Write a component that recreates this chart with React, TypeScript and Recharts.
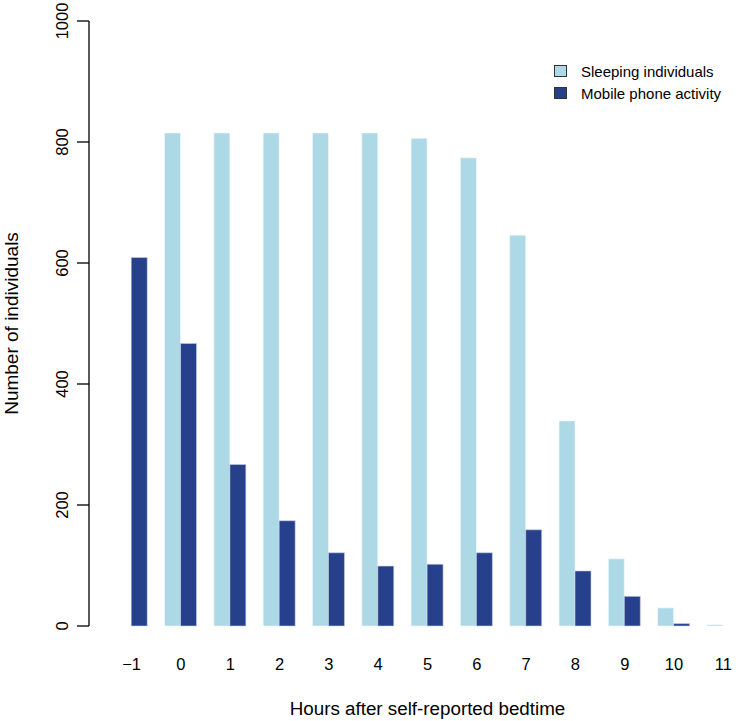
import React from "react";
import {
  BarChart,
  Bar,
  XAxis,
  YAxis,
  Legend,
  Label,
} from "recharts";

const hours = ["-1", "0", "1", "2", "3", "4", "5", "6", "7", "8", "9", "10", "11"];
const sleeping = [0, 815, 815, 815, 815, 815, 806, 774, 646, 339, 111, 30, 2];
const mobile = [609, 467, 267, 174, 121, 99, 102, 121, 159, 91, 49, 4, 0];
const yTicks = [0, 200, 400, 600, 800, 1000];

const legendOrder = ["Sleeping individuals", "Mobile phone activity"];

const data = hours.map((h, i) => ({
  hour: h.replace("-", "\u2212"),
  sleeping: sleeping[i],
  mobile: mobile[i],
}));

const FONT = "'Liberation Sans', Arial, Helvetica, sans-serif";

const YTick = (props: any) => {
  const { x, y, payload } = props;
  return (
    <text
      x={x - 7}
      y={y}
      transform={`rotate(-90, ${x - 7}, ${y})`}
      textAnchor="middle"
      fontSize={16.5}
      fontFamily={FONT}
      fill="#000"
    >
      {payload.value}
    </text>
  );
};

const renderLegend = (props: any) => {
  const items = [...props.payload].sort(
    (a: any, b: any) => legendOrder.indexOf(a.value) - legendOrder.indexOf(b.value)
  );
  return (
    <div style={{ fontFamily: FONT, fontSize: 15, color: "#000" }}>
      {items.map((entry: any) => (
        <div
          key={entry.value}
          style={{ display: "flex", alignItems: "center", height: 22 }}
        >
          <span
            style={{
              display: "inline-block",
              width: 11,
              height: 10,
              background: entry.color,
              border: "1px solid #333",
              marginRight: 14,
            }}
          />
          <span>{entry.value}</span>
        </div>
      ))}
    </div>
  );
};

export default function App() {
  return (
    <div style={{ position: "absolute", left: 0, top: 0, background: "#fff" }}>
      <BarChart
        width={750}
        height={721}
        data={data}
        margin={{ top: 21, right: 2, bottom: 0, left: 0 }}
        barCategoryGap="16.7%"
        barGap={0}
      >
        <XAxis
          dataKey="hour"
          axisLine={false}
          tickLine={false}
          tickSize={6}
          tickMargin={26}
          height={95}
          padding={{ left: 18, right: 0 }}
          interval={0}
          tick={{ fontSize: 16.5, fontFamily: FONT, fill: "#000" }}
        >
          <Label
            value="Hours after self‑reported bedtime"
            position="insideBottom"
            offset={6}
            dx={9}
            style={{ fontSize: 18.8, fontFamily: FONT, fill: "#000" }}
          />
        </XAxis>
        <YAxis
          domain={[0, 1000]}
          ticks={yTicks}
          width={89}
          tickSize={12}
          tickMargin={2}
          axisLine={{ stroke: "#000", strokeWidth: 1.3 }}
          tickLine={{ stroke: "#000", strokeWidth: 1.3 }}
          tick={<YTick />}
          interval={0}
        >
          <Label
            value="Number of individuals"
            angle={-90}
            position="insideLeft"
            offset={11}
            style={{ fontSize: 19, fontFamily: FONT, fill: "#000", textAnchor: "middle" }}
          />
        </YAxis>
        <Legend
          layout="vertical"
          align="center"
          verticalAlign="middle"
          content={renderLegend}
          wrapperStyle={{ top: 60, left: 554, width: 196 }}
        />
        <Bar
          dataKey="sleeping"
          name="Sleeping individuals"
          fill="#ADD8E6"
          stroke="#f4fafc"
          strokeWidth={0.6}
          isAnimationActive={false}
        />
        <Bar
          dataKey="mobile"
          name="Mobile phone activity"
          fill="#27408B"
          stroke="#c8d0e6"
          strokeWidth={0.6}
          isAnimationActive={false}
        />
      </BarChart>
    </div>
  );
}
